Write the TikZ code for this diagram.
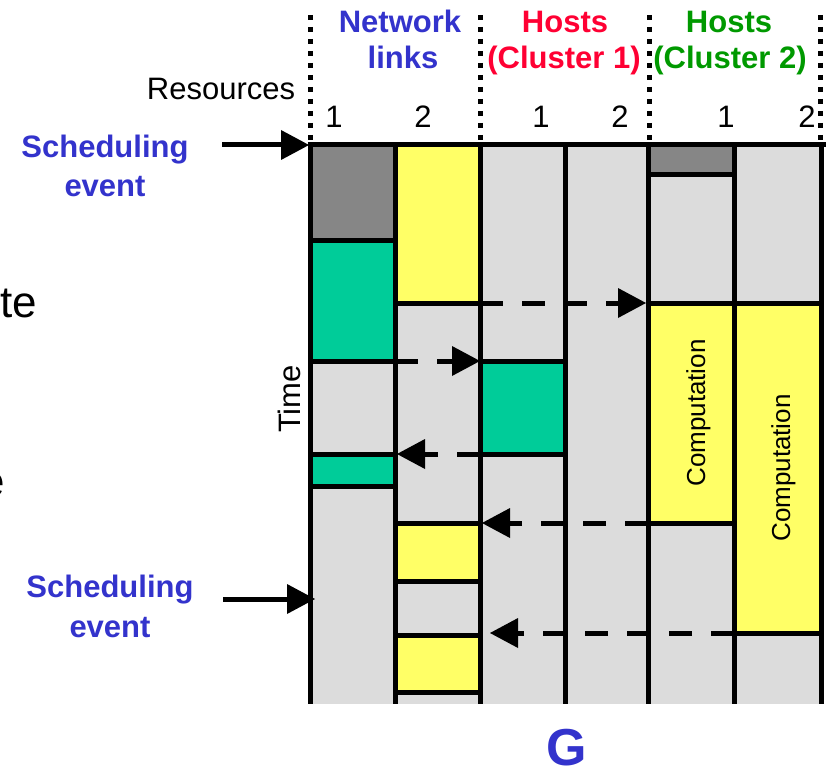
\documentclass[tikz,border=0pt]{standalone}
\usepackage{fontspec}
\setmainfont{Liberation Sans}
\usetikzlibrary{arrows.meta}
\definecolor{cellgray}{RGB}{220,220,220}
\definecolor{busygray}{RGB}{134,134,134}
\definecolor{commgreen}{RGB}{0,204,153}
\definecolor{compyellow}{RGB}{255,255,102}
\definecolor{labelblue}{RGB}{51,51,204}
\definecolor{labelred}{RGB}{255,0,51}
\definecolor{labelgreen}{RGB}{0,153,0}
\begin{document}
\begin{tikzpicture}[x=1pt,y=-1pt,
  gridline/.style={line width=5pt},
  sepline/.style={line width=5pt, dash pattern=on 5pt off 7pt},
  transfer/.style={line width=5pt, dash pattern=on 23pt off 19pt,
    -{Triangle[length=28pt,width=30pt,line width=0pt]}},
  eventarrow/.style={line width=5pt,
    -{Triangle[length=28pt,width=30pt,line width=0pt]}},
  lbl/.style={inner sep=0pt, font=\fontsize{31}{36}\selectfont},
  hdr/.style={inner sep=0pt, font=\fontsize{31}{36}\selectfont\bfseries},
  comp/.style={inner sep=0pt, font=\fontsize{26}{30}\selectfont, anchor=base, rotate=90},
]
\useasboundingbox (0,0) rectangle (826,767);
\clip (0,0) rectangle (826,767);

% left-hand text running off the edge
\node[inner sep=0pt, font=\fontsize{44}{50}\selectfont, anchor=base east] (lefta) at (37,317) {te};
\node[inner sep=0pt, font=\fontsize{44}{50}\selectfont, anchor=base east] (leftb) at (5,496) {e};

% resource/time chart background
\fill[cellgray] (310,145) rectangle (821,704);

% network link 1
\fill[busygray]  (310,145) rectangle (395,240);
\fill[commgreen] (310,240) rectangle (395,361);
\fill[commgreen] (310,454) rectangle (395,486);
% network link 2
\fill[compyellow] (395,145) rectangle (480,303);
\fill[compyellow] (395,523) rectangle (480,581);
\fill[compyellow] (395,635) rectangle (480,692);
% cluster 1, host 1
\fill[commgreen] (480,361) rectangle (565,454);
% cluster 2, hosts 1 and 2
\fill[busygray]   (648,145) rectangle (734,175);
\fill[compyellow] (648,303) rectangle (734,523);
\fill[compyellow] (734,303) rectangle (821,633);

% block boundaries
\foreach \y in {240,361,454,486} \draw[gridline] (310,\y) -- (395,\y);
\foreach \y in {303,523,581,635,692} \draw[gridline] (395,\y) -- (480,\y);
\foreach \y in {361,454} \draw[gridline] (480,\y) -- (565,\y);
\foreach \y in {175,523} \draw[gridline] (648,\y) -- (734,\y);
\draw[gridline] (648,303) -- (821,303);
\draw[gridline] (734,633) -- (821,633);

% column lines and top edge
\foreach \x in {310,395,480,565,648,734,821} \draw[gridline] (\x,145) -- (\x,704);
\draw[gridline] (307.5,145) -- (826,145);

% group separators
\foreach \x in {310,480,649,820} \draw[sepline] (\x,15) -- (\x,142);

% headers
\node[hdr, text=labelblue, anchor=base] (nl1) at (400,33) {Network};
\node[hdr, text=labelblue, anchor=base] (nl2) at (403,69) {links};
\node[hdr, text=labelred, anchor=base] (hc1a) at (565,33) {Hosts};
\node[hdr, text=labelred, anchor=base] (hc1b) at (564,69) {(Cluster 1)};
\node[hdr, text=labelgreen, anchor=base] (hc2a) at (729,33) {Hosts};
\node[hdr, text=labelgreen, anchor=base] (hc2b) at (730,69) {(Cluster 2)};

\node[lbl, anchor=base] (res) at (221,100) {Resources};
\node[lbl, anchor=base] (n1) at (334,128) {1};
\node[lbl, anchor=base] (n2) at (423,128) {2};
\node[lbl, anchor=base] (n3) at (541,128) {1};
\node[lbl, anchor=base] (n4) at (620,128) {2};
\node[lbl, anchor=base] (n5) at (726,128) {1};
\node[lbl, anchor=base] (n6) at (807,128) {2};

\node[lbl, anchor=base, rotate=90] (time) at (300,399) {Time};

\node[comp] (compa) at (705,413) {Computation};
\node[comp] (compb) at (790,468) {Computation};

% scheduling events
\node[hdr, text=labelblue, anchor=base] (se1a) at (105,158) {Scheduling};
\node[hdr, text=labelblue, anchor=base] (se1b) at (105,197) {event};
\node[hdr, text=labelblue, anchor=base] (se2a) at (110,597) {Scheduling};
\node[hdr, text=labelblue, anchor=base] (se2b) at (110,637) {event};

\coordinate (ev1s) at (222,145);
\coordinate (ev1e) at (309,145);
\coordinate (ev2s) at (223,599);
\coordinate (ev2e) at (315,599);
\draw[eventarrow] (ev1s) -- (ev1e);
\draw[eventarrow] (ev2s) -- (ev2e);

% data transfers
\coordinate (t1s) at (480,303);  \coordinate (t1e) at (646,303);
\coordinate (t2s) at (395,361);  \coordinate (t2e) at (480,361);
\coordinate (t3s) at (480,454);  \coordinate (t3e) at (397,454);
\coordinate (t4s) at (648,523);  \coordinate (t4e) at (482,523);
\coordinate (t5s) at (734,633);  \coordinate (t5e) at (490,633);
\draw[transfer] (t1s) -- (t1e);
\draw[transfer] (t2s) -- (t2e);
\draw[transfer] (t3s) -- (t3e);
\draw[transfer] (t4s) -- (t4e);
\draw[transfer] (t5s) -- (t5e);

\node[inner sep=0pt, font=\fontsize{52}{60}\selectfont\bfseries, text=labelblue, anchor=base] (g) at (567,765) {G};
\end{tikzpicture}
\end{document}
